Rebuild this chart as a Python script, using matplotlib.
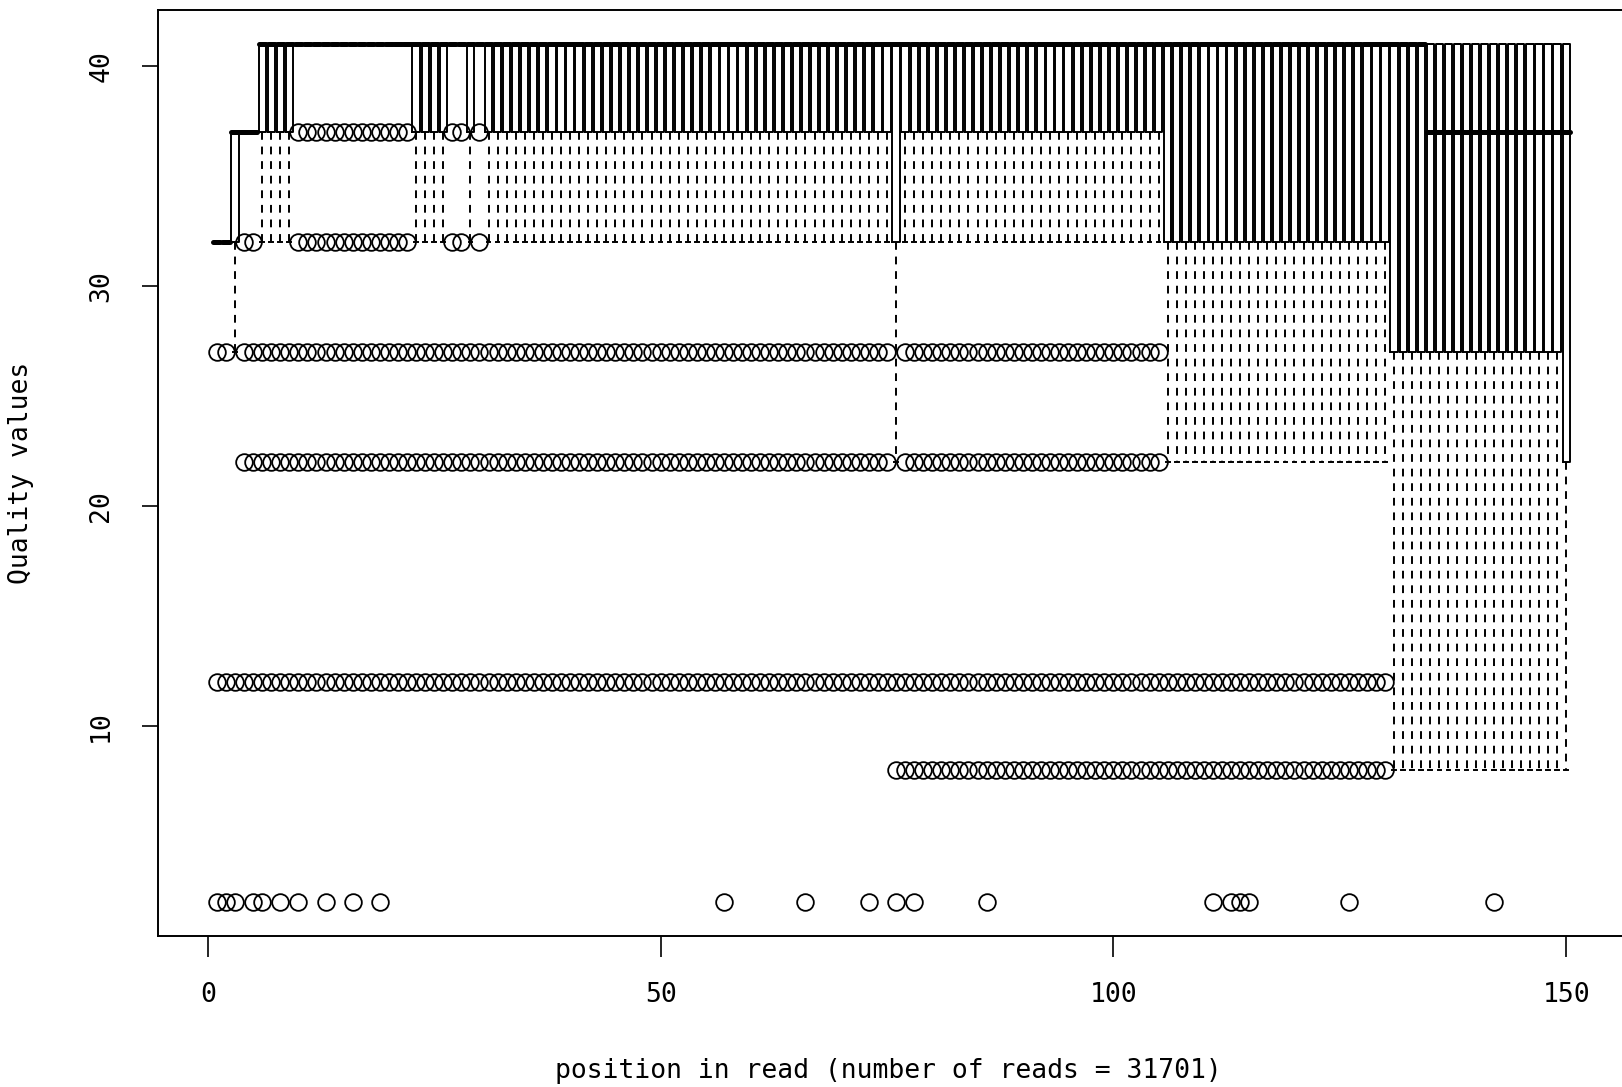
import matplotlib
matplotlib.use("Agg")
import matplotlib.pyplot as plt

# ---- data (positions 1..150) ----
positions = [i for i in range(1, 151)]

q1 = [32, 32, 32, 37, 37, 37, 37, 37, 37, 41,
      41, 41, 41, 41, 41, 41, 41, 41, 41, 41,
      41, 41, 37, 37, 37, 37, 41, 41, 37, 41,
      37, 37, 37, 37, 37, 37, 37, 37, 37, 37,
      37, 37, 37, 37, 37, 37, 37, 37, 37, 37,
      37, 37, 37, 37, 37, 37, 37, 37, 37, 37,
      37, 37, 37, 37, 37, 37, 37, 37, 37, 37,
      37, 37, 37, 37, 37, 32, 37, 37, 37, 37,
      37, 37, 37, 37, 37, 37, 37, 37, 37, 37,
      37, 37, 37, 37, 37, 37, 37, 37, 37, 37,
      37, 37, 37, 37, 37, 32, 32, 32, 32, 32,
      32, 32, 32, 32, 32, 32, 32, 32, 32, 32,
      32, 32, 32, 32, 32, 32, 32, 32, 32, 32,
      27, 27, 27, 27, 27, 27, 27, 27, 27, 27,
      27, 27, 27, 27, 27, 27, 27, 27, 27, 22]

med = [32, 32, 37, 37, 37, 41, 41, 41, 41, 41,
       41, 41, 41, 41, 41, 41, 41, 41, 41, 41,
       41, 41, 41, 41, 41, 41, 41, 41, 41, 41,
       41, 41, 41, 41, 41, 41, 41, 41, 41, 41,
       41, 41, 41, 41, 41, 41, 41, 41, 41, 41,
       41, 41, 41, 41, 41, 41, 41, 41, 41, 41,
       41, 41, 41, 41, 41, 41, 41, 41, 41, 41,
       41, 41, 41, 41, 41, 41, 41, 41, 41, 41,
       41, 41, 41, 41, 41, 41, 41, 41, 41, 41,
       41, 41, 41, 41, 41, 41, 41, 41, 41, 41,
       41, 41, 41, 41, 41, 41, 41, 41, 41, 41,
       41, 41, 41, 41, 41, 41, 41, 41, 41, 41,
       41, 41, 41, 41, 41, 41, 41, 41, 41, 41,
       41, 41, 41, 41, 37, 37, 37, 37, 37, 37,
       37, 37, 37, 37, 37, 37, 37, 37, 37, 37]

q3 = [32, 32, 37, 37, 37, 41, 41, 41, 41, 41,
      41, 41, 41, 41, 41, 41, 41, 41, 41, 41,
      41, 41, 41, 41, 41, 41, 41, 41, 41, 41,
      41, 41, 41, 41, 41, 41, 41, 41, 41, 41,
      41, 41, 41, 41, 41, 41, 41, 41, 41, 41,
      41, 41, 41, 41, 41, 41, 41, 41, 41, 41,
      41, 41, 41, 41, 41, 41, 41, 41, 41, 41,
      41, 41, 41, 41, 41, 41, 41, 41, 41, 41,
      41, 41, 41, 41, 41, 41, 41, 41, 41, 41,
      41, 41, 41, 41, 41, 41, 41, 41, 41, 41,
      41, 41, 41, 41, 41, 41, 41, 41, 41, 41,
      41, 41, 41, 41, 41, 41, 41, 41, 41, 41,
      41, 41, 41, 41, 41, 41, 41, 41, 41, 41,
      41, 41, 41, 41, 41, 41, 41, 41, 41, 41,
      41, 41, 41, 41, 41, 41, 41, 41, 41, 41]

whislo = [32, 32, 27, 37, 37, 32, 32, 32, 32, 41,
          41, 41, 41, 41, 41, 41, 41, 41, 41, 41,
          41, 41, 32, 32, 32, 32, 41, 41, 32, 41,
          32, 32, 32, 32, 32, 32, 32, 32, 32, 32,
          32, 32, 32, 32, 32, 32, 32, 32, 32, 32,
          32, 32, 32, 32, 32, 32, 32, 32, 32, 32,
          32, 32, 32, 32, 32, 32, 32, 32, 32, 32,
          32, 32, 32, 32, 32, 22, 32, 32, 32, 32,
          32, 32, 32, 32, 32, 32, 32, 32, 32, 32,
          32, 32, 32, 32, 32, 32, 32, 32, 32, 32,
          32, 32, 32, 32, 32, 22, 22, 22, 22, 22,
          22, 22, 22, 22, 22, 22, 22, 22, 22, 22,
          22, 22, 22, 22, 22, 22, 22, 22, 22, 22,
          8, 8, 8, 8, 8, 8, 8, 8, 8, 8,
          8, 8, 8, 8, 8, 8, 8, 8, 8, 8]

whishi = [32, 32, 37, 37, 37, 41, 41, 41, 41, 41,
          41, 41, 41, 41, 41, 41, 41, 41, 41, 41,
          41, 41, 41, 41, 41, 41, 41, 41, 41, 41,
          41, 41, 41, 41, 41, 41, 41, 41, 41, 41,
          41, 41, 41, 41, 41, 41, 41, 41, 41, 41,
          41, 41, 41, 41, 41, 41, 41, 41, 41, 41,
          41, 41, 41, 41, 41, 41, 41, 41, 41, 41,
          41, 41, 41, 41, 41, 41, 41, 41, 41, 41,
          41, 41, 41, 41, 41, 41, 41, 41, 41, 41,
          41, 41, 41, 41, 41, 41, 41, 41, 41, 41,
          41, 41, 41, 41, 41, 41, 41, 41, 41, 41,
          41, 41, 41, 41, 41, 41, 41, 41, 41, 41,
          41, 41, 41, 41, 41, 41, 41, 41, 41, 41,
          41, 41, 41, 41, 41, 41, 41, 41, 41, 41,
          41, 41, 41, 41, 41, 41, 41, 41, 41, 41]

# outlier quality levels and the positions at which each appears
outlier_levels = [37, 32, 27, 22, 12, 8, 2]
out37_pos = [10, 11, 12, 13, 14, 15, 16, 17, 18, 19, 20, 21, 22, 27, 28, 30]
out32_pos = [4, 5, 10, 11, 12, 13, 14, 15, 16, 17, 18, 19, 20, 21, 22, 27, 28, 30]
out27_pos = [1, 2, 4, 5, 6, 7, 8, 9, 10, 11, 12, 13, 14, 15, 16, 17, 18, 19, 20,
             21, 22, 23, 24, 25, 26, 27, 28, 29, 30, 31, 32, 33, 34, 35, 36, 37, 38,
             39, 40, 41, 42, 43, 44, 45, 46, 47, 48, 49, 50, 51, 52, 53, 54, 55, 56,
             57, 58, 59, 60, 61, 62, 63, 64, 65, 66, 67, 68, 69, 70, 71, 72, 73, 74,
             75, 77, 78, 79, 80, 81, 82, 83, 84, 85, 86, 87, 88, 89, 90, 91, 92, 93,
             94, 95, 96, 97, 98, 99, 100, 101, 102, 103, 104, 105]
out22_pos = [4, 5, 6, 7, 8, 9, 10, 11, 12, 13, 14, 15, 16, 17, 18, 19, 20,
             21, 22, 23, 24, 25, 26, 27, 28, 29, 30, 31, 32, 33, 34, 35, 36, 37, 38,
             39, 40, 41, 42, 43, 44, 45, 46, 47, 48, 49, 50, 51, 52, 53, 54, 55, 56,
             57, 58, 59, 60, 61, 62, 63, 64, 65, 66, 67, 68, 69, 70, 71, 72, 73, 74,
             75, 77, 78, 79, 80, 81, 82, 83, 84, 85, 86, 87, 88, 89, 90, 91, 92, 93,
             94, 95, 96, 97, 98, 99, 100, 101, 102, 103, 104, 105]
out12_pos = [1, 2, 3, 4, 5, 6, 7, 8, 9, 10, 11, 12, 13, 14, 15, 16, 17, 18, 19, 20,
             21, 22, 23, 24, 25, 26, 27, 28, 29, 30, 31, 32, 33, 34, 35, 36, 37, 38,
             39, 40, 41, 42, 43, 44, 45, 46, 47, 48, 49, 50, 51, 52, 53, 54, 55, 56,
             57, 58, 59, 60, 61, 62, 63, 64, 65, 66, 67, 68, 69, 70, 71, 72, 73, 74,
             75, 76, 77, 78, 79, 80, 81, 82, 83, 84, 85, 86, 87, 88, 89, 90, 91, 92,
             93, 94, 95, 96, 97, 98, 99, 100, 101, 102, 103, 104, 105, 106, 107, 108,
             109, 110, 111, 112, 113, 114, 115, 116, 117, 118, 119, 120, 121, 122,
             123, 124, 125, 126, 127, 128, 129, 130]
out8_pos = [76, 77, 78, 79, 80, 81, 82, 83, 84, 85, 86, 87, 88, 89, 90, 91, 92,
            93, 94, 95, 96, 97, 98, 99, 100, 101, 102, 103, 104, 105, 106, 107, 108,
            109, 110, 111, 112, 113, 114, 115, 116, 117, 118, 119, 120, 121, 122,
            123, 124, 125, 126, 127, 128, 129, 130]
out2_pos = [1, 2, 3, 5, 6, 8, 10, 13, 16, 19, 57, 66, 73, 76, 78, 86,
            111, 113, 114, 115, 126, 142]
outlier_positions = [out37_pos, out32_pos, out27_pos, out22_pos,
                     out12_pos, out8_pos, out2_pos]

x_ticks = [0, 50, 100, 150]
y_ticks = [10, 20, 30, 40]
x_label = "position in read (number of reads = 31701)"
y_label = "Quality values"

# ---- build stats for the library's boxplot drawer ----
stats = []
for i, p in enumerate(positions):
    fl = [lvl for lvl, plist in zip(outlier_levels, outlier_positions) if p in plist]
    stats.append(dict(med=med[i], q1=q1[i], q3=q3[i],
                      whislo=whislo[i], whishi=whishi[i], fliers=fl))

plt.rcParams['font.family'] = ['DejaVu Sans Mono']
fig = plt.figure(figsize=(16.22, 10.87), dpi=100)
ax = fig.add_axes([158 / 1622, 1 - 936 / 1087, (1625 - 158) / 1622, (936 - 10) / 1087])

lw = 1.4
ax.bxp(stats, positions=positions, widths=0.8, manage_ticks=False,
       boxprops=dict(color='black', linewidth=lw),
       medianprops=dict(color='black', linewidth=3.6, solid_capstyle='round'),
       whiskerprops=dict(color='black', linewidth=lw, linestyle=(0, (4, 3.5))),
       capprops=dict(color='black', linewidth=lw),
       flierprops=dict(marker='o', markerfacecolor='none', markeredgecolor='black',
                       markersize=12, markeredgewidth=1.3, linestyle='none'))

ax.set_xlim(-5.5, 156.5)
ax.set_ylim(0.44, 42.56)
ax.set_xticks(x_ticks)
ax.set_xticklabels([str(t) for t in x_ticks], fontsize=19)
ax.set_yticks(y_ticks)
ax.set_yticklabels([str(t) for t in y_ticks], fontsize=19, rotation=90, va='center')
ax.tick_params(axis='x', direction='out', length=15, width=1.2, pad=18)
ax.tick_params(axis='y', direction='out', length=11.5, width=1.2, pad=20)
for s in ax.spines.values():
    s.set_linewidth(1.4)

ax.set_xlabel(x_label, fontsize=19)
ax.set_ylabel(y_label, fontsize=19)
ax.xaxis.set_label_coords(0.498, (936 - 1071) / 926)
ax.xaxis.label.set_va('center')
ax.yaxis.set_label_coords((21 - 158) / 1467, 0.5)
ax.yaxis.label.set_va('center')

fig.savefig("out.png", dpi=100)
